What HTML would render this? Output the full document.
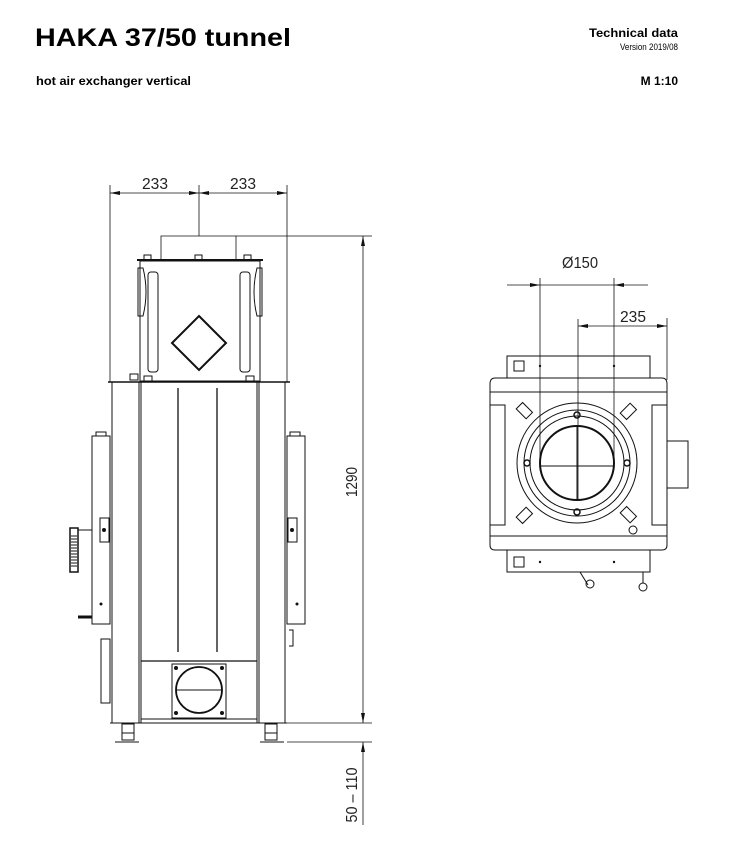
<!DOCTYPE html>
<html><head><meta charset="utf-8"><style>
html,body{margin:0;padding:0;background:#fff;}
svg{display:block;}
text{font-family:"Liberation Sans",sans-serif;}
</style></head><body>
<svg width="746" height="852" viewBox="0 0 746 852" xmlns="http://www.w3.org/2000/svg">
<defs>
<marker id="a" viewBox="0 0 10 4" refX="10" refY="2" markerWidth="10" markerHeight="4" orient="auto-start-reverse" markerUnits="userSpaceOnUse"><path d="M0,0L10,2L0,4z" fill="#111"/></marker>
</defs>
<text x="35" y="46" font-size="25" font-weight="bold" textLength="256" lengthAdjust="spacingAndGlyphs" fill="#000">HAKA 37/50 tunnel</text>
<text x="36" y="85" font-size="12" font-weight="bold" textLength="155" lengthAdjust="spacingAndGlyphs">hot air exchanger vertical</text>
<text x="678" y="37" font-size="12" font-weight="bold" text-anchor="end" textLength="89" lengthAdjust="spacingAndGlyphs">Technical data</text>
<text x="678" y="50" font-size="9" text-anchor="end" textLength="58" lengthAdjust="spacingAndGlyphs">Version 2019/08</text>
<text x="678" y="85" font-size="12" font-weight="bold" text-anchor="end">M 1:10</text>

<g stroke="#111" fill="none" stroke-width="1">
<line x1="110" y1="185" x2="110" y2="382" stroke-width="0.8"/>
<line x1="287" y1="185" x2="287" y2="382" stroke-width="0.8"/>
<line x1="199" y1="185" x2="199" y2="236" stroke-width="0.8"/>
<line x1="110" y1="193" x2="199" y2="193" marker-start="url(#a)" marker-end="url(#a)" stroke-width="0.8"/>
<line x1="199" y1="193" x2="287" y2="193" marker-start="url(#a)" marker-end="url(#a)" stroke-width="0.8"/>
<path d="M161 260V236H372M236 236V260" stroke-width="0.8"/>
<rect x="140" y="261" width="120" height="120"/>
<line x1="137" y1="260" x2="263" y2="260" stroke-width="2"/>
<path d="M143 268 L138 268 L138 316 L143 316 Q149 292 143 268Z"/>
<path d="M257 268 L262 268 L262 316 L257 316 Q251 292 257 268Z"/>
<rect x="148" y="272" width="10" height="100" rx="3"/>
<rect x="240" y="272" width="10" height="100" rx="3"/>
<path d="M199 316 L226 343 L199 370 L172 343Z" stroke-width="2"/>
<rect x="144" y="255" width="7" height="5"/><rect x="195" y="255" width="7" height="5"/><rect x="244" y="255" width="7" height="5"/>
<rect x="130" y="374" width="8" height="6"/><rect x="144" y="376" width="8" height="5"/><rect x="246" y="376" width="8" height="5"/>
<line x1="108" y1="382" x2="290" y2="382" stroke-width="1.5"/>
<line x1="112" y1="382" x2="112" y2="723"/>
<line x1="139" y1="382" x2="139" y2="723"/>
<line x1="141" y1="382" x2="141" y2="723"/>
<line x1="257" y1="382" x2="257" y2="723"/>
<line x1="259" y1="382" x2="259" y2="723"/>
<line x1="285" y1="382" x2="285" y2="723"/>
<line x1="110" y1="723" x2="287" y2="723"/>
<line x1="178" y1="388" x2="178" y2="652" stroke-width="1.3"/>
<line x1="217" y1="388" x2="217" y2="652" stroke-width="1.3"/>
<line x1="141" y1="661" x2="257" y2="661" stroke-width="1.3"/>
<line x1="141" y1="719" x2="257" y2="719"/>
<rect x="172" y="664" width="54" height="54"/>
<circle cx="199" cy="690" r="23" stroke-width="1.8"/>
<line x1="176" y1="690" x2="222" y2="690"/>
<g fill="#111" stroke="none"><circle cx="176" cy="668" r="2"/><circle cx="222" cy="668" r="2"/><circle cx="176" cy="713" r="2"/><circle cx="222" cy="713" r="2"/></g>
<rect x="122" y="724" width="12" height="9"/><rect x="122" y="733" width="12" height="7"/><line x1="115" y1="742" x2="139" y2="742"/>
<rect x="265" y="724" width="12" height="9"/><rect x="265" y="733" width="12" height="7"/><line x1="260" y1="742" x2="284" y2="742"/>
<rect x="92" y="436" width="18" height="188"/><rect x="96" y="432" width="10" height="4"/>
<rect x="100" y="518" width="9" height="24"/>
<rect x="287" y="436" width="18" height="188"/><rect x="290" y="432" width="10" height="4"/>
<rect x="288" y="518" width="9" height="24"/>
<rect x="70" y="528" width="8" height="44" stroke-width="1.5"/>
<path d="M71 536h6M71 539h6M71 542h6M71 545h6M71 548h6M71 551h6M71 554h6M71 557h6M71 560h6M71 563h6M71 566h6" stroke-width="1"/>
<line x1="78" y1="530" x2="92" y2="530"/>
<line x1="78" y1="617" x2="92" y2="617" stroke-width="3"/>
<rect x="101" y="639" width="9" height="64"/>
<path d="M289 630h4v16h-4"/>
<line x1="363" y1="236" x2="363" y2="723" marker-start="url(#a)" marker-end="url(#a)" stroke-width="0.8"/>
<line x1="287" y1="723" x2="372" y2="723" stroke-width="0.8"/>
<line x1="287" y1="742" x2="372" y2="742" stroke-width="0.8"/>
<line x1="363" y1="742" x2="363" y2="825" marker-start="url(#a)" stroke-width="0.8"/>
</g>
<g fill="#111" stroke="none"><circle cx="101" cy="604" r="1.5"/><circle cx="297" cy="604" r="1.5"/><circle cx="104" cy="530" r="2"/><circle cx="292" cy="530" r="2"/></g>
<text x="155" y="189" font-size="16" text-anchor="middle" textLength="26" lengthAdjust="spacingAndGlyphs" fill="#222">233</text>
<text x="243" y="189" font-size="16" text-anchor="middle" textLength="26" lengthAdjust="spacingAndGlyphs" fill="#222">233</text>
<text transform="translate(357,482) rotate(-90)" font-size="16" text-anchor="middle" textLength="30" lengthAdjust="spacingAndGlyphs" fill="#222">1290</text>
<text transform="translate(357,795) rotate(-90)" font-size="16" text-anchor="middle" textLength="55" lengthAdjust="spacingAndGlyphs" fill="#222">50 – 110</text>

<g stroke="#111" fill="none" stroke-width="1">
<line x1="507" y1="285" x2="540" y2="285" marker-end="url(#a)" stroke-width="0.8"/>
<line x1="540" y1="285" x2="614" y2="285" stroke-width="0.8"/>
<line x1="648" y1="285" x2="614" y2="285" marker-end="url(#a)" stroke-width="0.8"/>
<line x1="540" y1="278" x2="540" y2="470" stroke-width="0.8"/>
<line x1="614" y1="278" x2="614" y2="470" stroke-width="0.8"/>
<line x1="578" y1="319" x2="578" y2="500" stroke-width="0.8"/>
<line x1="578" y1="326" x2="667" y2="326" marker-start="url(#a)" marker-end="url(#a)" stroke-width="0.8"/>
<line x1="667" y1="318" x2="667" y2="380" stroke-width="0.8"/>
<rect x="507" y="356" width="143" height="22"/>
<rect x="514" y="361" width="10" height="10"/>
<path d="M495 378 H662 Q667 378 667 384 V545 Q667 550 662 550 H495 Q490 550 490 545 V384 Q490 378 495 378Z"/>
<line x1="490" y1="392" x2="667" y2="392"/>
<line x1="490" y1="536" x2="667" y2="536"/>
<rect x="490" y="405" width="15" height="120"/>
<rect x="652" y="405" width="15" height="120"/>
<rect x="667" y="441" width="21" height="47"/>
<rect x="507" y="550" width="143" height="22"/>
<rect x="514" y="557" width="10" height="10"/>
<circle cx="577" cy="463" r="60"/>
<circle cx="577" cy="463" r="53"/>
<circle cx="577" cy="463" r="47"/>
<circle cx="577" cy="463" r="37" stroke-width="2"/>
<line x1="577" y1="426" x2="577" y2="500"/>
<line x1="541" y1="466" x2="613" y2="466"/>
<g stroke-width="1.5"><circle cx="577" cy="415" r="3"/><circle cx="577" cy="512" r="3"/><circle cx="527" cy="463" r="3"/><circle cx="627" cy="463" r="3"/></g>
<g><rect x="520" y="404" width="9" height="14" transform="rotate(-45 524 411)"/><rect x="624" y="404" width="9" height="14" transform="rotate(45 628 411)"/><rect x="520" y="508" width="9" height="14" transform="rotate(45 524 515)"/><rect x="624" y="508" width="9" height="14" transform="rotate(-45 628 515)"/></g>
<circle cx="633" cy="530" r="4"/>
<path d="M580 572 L588 585"/><circle cx="590" cy="584" r="4"/>
<path d="M643 572 V583"/><circle cx="643" cy="587" r="4"/>
</g>
<g fill="#111"><circle cx="540" cy="366" r="1.2"/><circle cx="614" cy="366" r="1.2"/><circle cx="540" cy="562" r="1.2"/><circle cx="614" cy="562" r="1.2"/></g>
<text x="580" y="268" font-size="16" text-anchor="middle" textLength="36" lengthAdjust="spacingAndGlyphs" fill="#222">Ø150</text>
<text x="633" y="322" font-size="16" text-anchor="middle" textLength="26" lengthAdjust="spacingAndGlyphs" fill="#222">235</text>
</svg>
</body></html>
